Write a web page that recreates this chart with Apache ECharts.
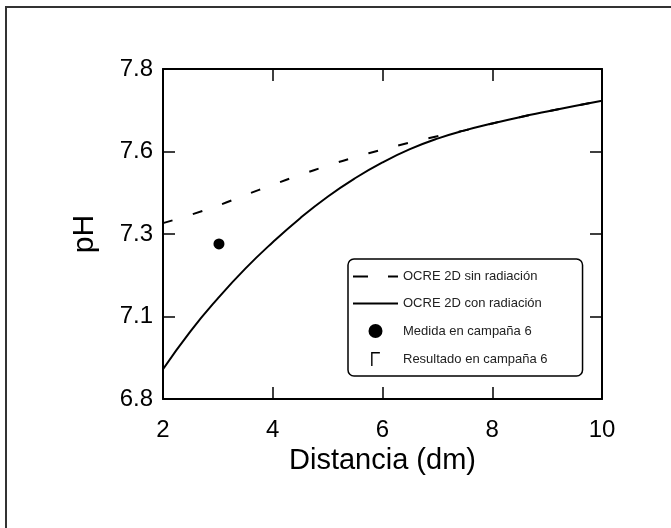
<!DOCTYPE html>
<html>
<head>
<meta charset="utf-8">
<script src="https://cdn.jsdelivr.net/npm/echarts@6/dist/echarts.min.js"></script>
<style>
  html, body { margin: 0; padding: 0; background: #fff; }
  #wrap { position: relative; width: 671px; height: 528px; overflow: hidden; }
  #frame { position: absolute; left: 5px; top: 6px; right: -10px; bottom: -10px;
           border-top: 2px solid #333; border-left: 2px solid #333; }
  #chart { position: absolute; left: 0; top: 0; width: 671px; height: 528px; }
</style>
</head>
<body>
<div id="wrap">
  <div id="frame"></div>
  <div id="chart"></div>
</div>
<script>
// distance (dm) and pH
var distances = [2, 2.5, 3, 3.5, 4, 4.5, 5, 5.5, 6, 6.5, 7, 7.5, 8, 8.5, 9, 9.5, 10];
var phSinRadiacion = [7.333, 7.358, 7.386, 7.418, 7.449, 7.479, 7.507, 7.533, 7.556, 7.577, 7.596, 7.614, 7.635, 7.654, 7.671, 7.688, 7.704];
var phConRadiacion = [6.89, 7.005, 7.105, 7.195, 7.275, 7.348, 7.413, 7.469, 7.517, 7.557, 7.589, 7.614, 7.635, 7.654, 7.671, 7.688, 7.704];
var medidaX = [3.02];
var medidaY = [7.27];
var seriesNames = ['OCRE 2D sin radiación', 'OCRE 2D con radiación', 'Medida en campaña 6', 'Resultado en campaña 6'];
var yTickValues = [6.8, 7.05, 7.3, 7.55, 7.8];
var yTickLabels = ['6.8', '7.1', '7.3', '7.6', '7.8'];

function pairs(xs, ys) {
    return xs.map(function (x, i) { return [x, ys[i]]; });
}

function yLabel(v) {
    var best = 0;
    for (var i = 1; i < yTickValues.length; i++) {
        if (Math.abs(yTickValues[i] - v) < Math.abs(yTickValues[best] - v)) best = i;
    }
    return yTickLabels[best];
}

var font = '"Liberation Sans", Arial, sans-serif';
var axisLine = { lineStyle: { color: '#000', width: 2 } };
var tick = { inside: true, length: 12, lineStyle: { color: '#000', width: 1.5 } };

// legend icons (drawn inside itemWidth x itemHeight)
var iconDashed = 'path://M0,6H15V8H0Z M35,6H45V8H35Z';
var iconSolid = 'path://M0,6H45V8H0Z';
var iconCorner = 'path://M0,16L0,0L10,0L10,1.6L1.6,1.6L1.6,16Z';

var chart = echarts.init(document.getElementById('chart'));
chart.setOption({
    animation: false,
    backgroundColor: 'transparent',
    textStyle: { fontFamily: font },
    grid: { left: 163, right: 69, top: 69, bottom: 129 },
    legend: {
        orient: 'vertical',
        left: 348,
        top: 259,
        padding: [11, 35, 10, 5],
        itemGap: 14,
        itemWidth: 45,
        itemHeight: 14,
        borderColor: '#000',
        borderWidth: 1.5,
        borderRadius: 6,
        backgroundColor: '#fff',
        itemStyle: { color: '#000' },
        textStyle: { fontSize: 13, color: '#222', fontFamily: font },
        data: [
            { name: seriesNames[0], icon: iconDashed },
            { name: seriesNames[1], icon: iconSolid },
            { name: seriesNames[2], icon: 'circle' },
            { name: seriesNames[3], icon: iconCorner }
        ]
    },
    xAxis: [{
        type: 'value', min: 2, max: 10, interval: 2,
        name: 'Distancia (dm)', nameLocation: 'middle', nameGap: 44,
        nameTextStyle: { fontSize: 29, color: '#000', fontFamily: font },
        axisLine: axisLine, axisTick: tick,
        axisLabel: { fontSize: 24, color: '#000', margin: 19, fontFamily: font },
        splitLine: { show: false }
    }, {
        type: 'value', min: 2, max: 10, interval: 2, position: 'top',
        axisLine: axisLine, axisTick: tick,
        axisLabel: { show: false }, splitLine: { show: false }
    }],
    yAxis: [{
        type: 'value', min: 6.8, max: 7.8, interval: 0.25,
        name: 'pH', nameLocation: 'middle', nameGap: 63, nameRotate: 90,
        nameTextStyle: { fontSize: 30, color: '#000', fontFamily: font },
        axisLine: axisLine, axisTick: tick,
        axisLabel: { fontSize: 24, color: '#000', margin: 10, fontFamily: font, formatter: yLabel },
        splitLine: { show: false }
    }, {
        type: 'value', min: 6.8, max: 7.8, interval: 0.25, position: 'right',
        axisLine: axisLine, axisTick: tick,
        axisLabel: { show: false }, splitLine: { show: false }
    }],
    series: [{
        name: seriesNames[1],
        type: 'line',
        smooth: true,
        symbol: 'none',
        data: pairs(distances, phConRadiacion),
        lineStyle: { color: '#000', width: 2 },
        itemStyle: { color: '#000' }
    }, {
        name: seriesNames[0],
        type: 'line',
        smooth: true,
        symbol: 'none',
        data: pairs(distances, phSinRadiacion),
        lineStyle: { color: '#000', width: 2, type: [10, 21] },
        itemStyle: { color: '#000' }
    }, {
        name: seriesNames[2],
        type: 'scatter',
        symbol: 'circle',
        symbolSize: 11,
        data: pairs(medidaX, medidaY),
        itemStyle: { color: '#000', opacity: 1 }
    }, {
        name: seriesNames[3],
        type: 'scatter',
        symbol: iconCorner,
        data: [],
        itemStyle: { color: '#000', opacity: 1 }
    }]
});
</script>
</body>
</html>
